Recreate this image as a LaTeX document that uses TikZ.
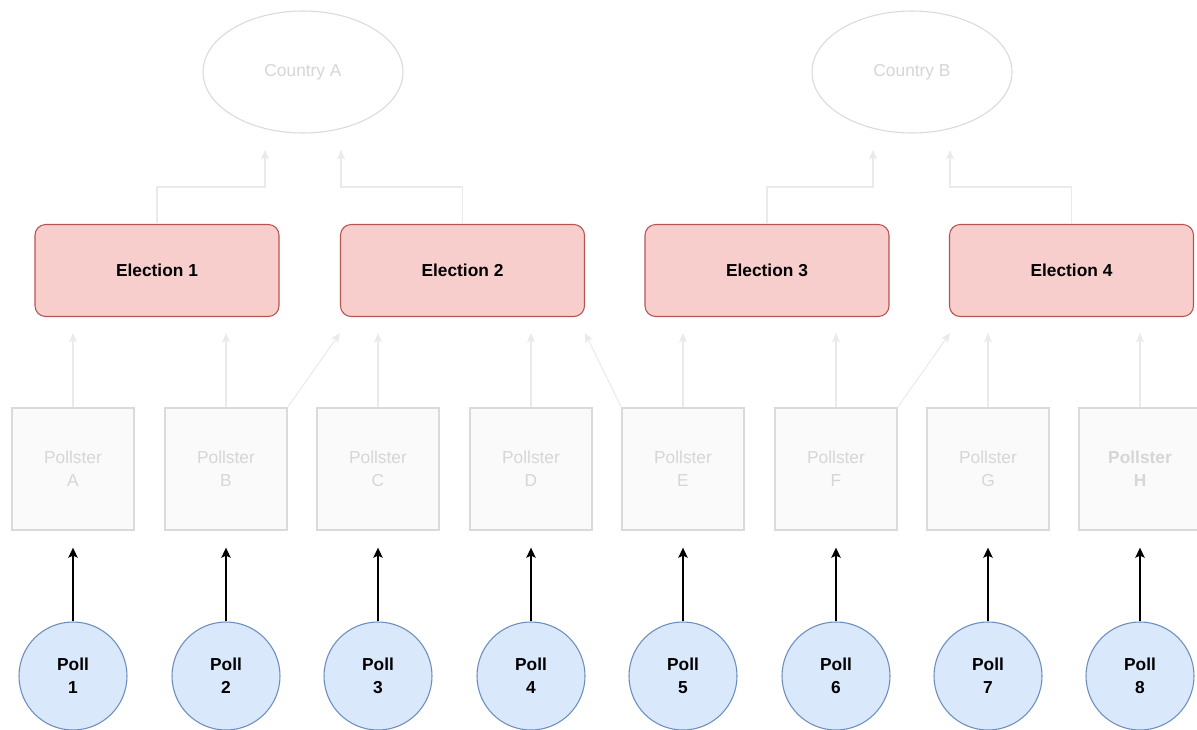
\documentclass[tikz,border=0pt]{standalone}
\usepackage{fontspec}
\setmainfont{Liberation Sans}
\usetikzlibrary{arrows.meta,shapes.geometric}
\definecolor{elecfill}{HTML}{F8CECC}
\definecolor{elecline}{HTML}{B85450}
\definecolor{pollfill}{HTML}{DAE8FC}
\definecolor{pollline}{HTML}{6C8EBF}
\definecolor{paleline}{HTML}{DADADA}
\definecolor{palefill}{HTML}{FAFAFA}
\definecolor{paletext}{HTML}{D6D6D6}
\definecolor{palearrow}{HTML}{EAEAEA}
\tikzset{
  txt/.style={font=\fontsize{13}{17.5}\selectfont, align=center},
  country/.style={txt, ellipse, draw=paleline, fill=white, text=paletext,
    minimum width=150pt, minimum height=91.5pt, inner sep=0pt, line width=0.8pt},
  election/.style={txt, font=\fontsize{13}{17.5}\selectfont\bfseries, rectangle,
    rounded corners=8pt, draw=elecline, fill=elecfill,
    minimum width=183pt, minimum height=69pt, inner sep=0pt, line width=0.8pt},
  pollster/.style={txt, rectangle, draw=paleline, fill=palefill, text=paletext,
    minimum width=91.5pt, minimum height=91.5pt, inner sep=0pt, line width=1pt},
  poll/.style={txt, font=\fontsize{13}{17.5}\selectfont\bfseries, circle,
    draw=pollline, fill=pollfill, minimum size=81pt, inner sep=0pt, line width=0.8pt},
  palearr/.style={draw=palearrow, line width=0.8pt,
    -{Stealth[length=7pt,width=6pt,inset=1.5pt]}},
  pollarr/.style={draw=black, line width=1.1pt,
    -{Stealth[length=7.5pt,width=7pt,inset=1.5pt]}, shorten >=12.75pt}
}
\begin{document}
\begin{tikzpicture}[x=0.75pt,y=-0.75pt]
\useasboundingbox (0,0) rectangle (1197,729);

% countries
\node[country] (ca) at (303,72) {Country A};
\node[country] (cb) at (912,72) {Country B};

% elections
\node[election] (e1) at (157,270.5) {Election 1};
\node[election] (e2) at (462.5,270.5) {Election 2};
\node[election] (e3) at (767,270.5) {Election 3};
\node[election] (e4) at (1071.5,270.5) {Election 4};

% pollsters
\node[pollster] (pa) at (73,469) {Pollster\\A};
\node[pollster] (pb) at (226,469) {Pollster\\B};
\node[pollster] (pc) at (378,469) {Pollster\\C};
\node[pollster] (pd) at (531,469) {Pollster\\D};
\node[pollster] (pe) at (683,469) {Pollster\\E};
\node[pollster] (pf) at (836,469) {Pollster\\F};
\node[pollster] (pg) at (988,469) {Pollster\\G};
\node[pollster] (ph) at (1140,469) {\bfseries Pollster\\\bfseries H};

% polls
\node[poll] (q1) at (73,676) {Poll\\1};
\node[poll] (q2) at (226,676) {Poll\\2};
\node[poll] (q3) at (378,676) {Poll\\3};
\node[poll] (q4) at (531,676) {Poll\\4};
\node[poll] (q5) at (683,676) {Poll\\5};
\node[poll] (q6) at (836,676) {Poll\\6};
\node[poll] (q7) at (988,676) {Poll\\7};
\node[poll] (q8) at (1140,676) {Poll\\8};

% election -> country links (loose ends below the ellipses)
\coordinate (ja1) at (265,187); \coordinate (ta1) at (265,150);
\coordinate (ja2) at (341,187); \coordinate (ta2) at (341,150);
\coordinate (jb1) at (873,187); \coordinate (tb1) at (873,150);
\coordinate (jb2) at (950,187); \coordinate (tb2) at (950,150);
\draw[palearr] (e1.north) |- (ja1) -- (ta1);
\draw[palearr] (e2.north) |- (ja2) -- (ta2);
\draw[palearr] (e3.north) |- (jb1) -- (tb1);
\draw[palearr] (e4.north) |- (jb2) -- (tb2);

% pollster -> election links (loose ends below the elections)
\foreach \p/\x in {pa/73, pb/226, pc/378, pd/531, pe/683, pf/836, pg/988, ph/1140}{
  \coordinate (t\p) at (\x,333);
  \draw[palearr] (\p.north) -- (t\p);
}
\coordinate (dB) at (340,333);
\coordinate (dE) at (585,333);
\coordinate (dF) at (950,333);
\draw[palearr] (pb.north east) -- (dB);
\draw[palearr] (pe.north west) -- (dE);
\draw[palearr] (pf.north east) -- (dF);

% poll -> pollster links
\foreach \q/\p in {q1/pa, q2/pb, q3/pc, q4/pd, q5/pe, q6/pf, q7/pg, q8/ph}{
  \draw[pollarr] (\q.north) -- (\p.south);
}
\end{tikzpicture}
\end{document}
